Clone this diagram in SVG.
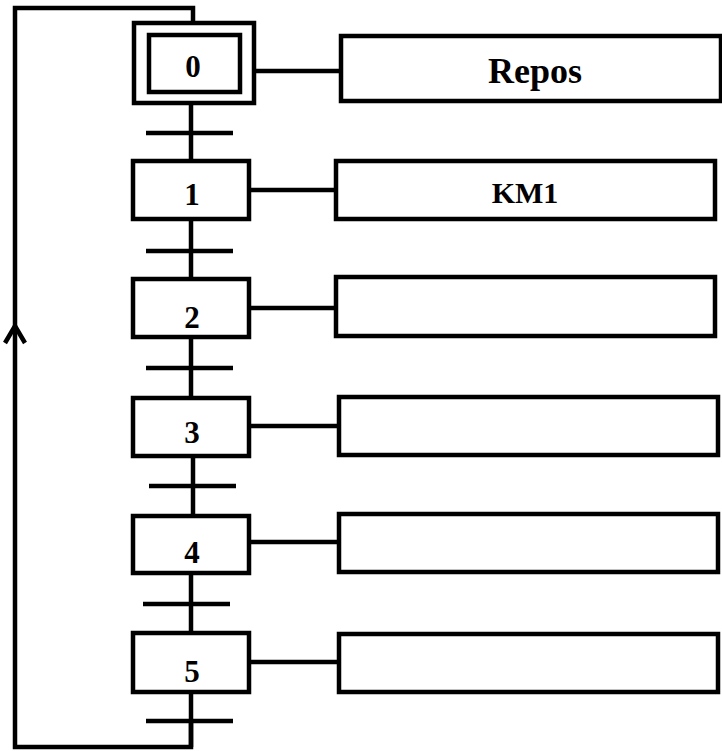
<svg xmlns="http://www.w3.org/2000/svg" width="722" height="751" viewBox="0 0 722 751">
<style>
.box{fill:#fff;stroke:#000;stroke-width:4.5}
.ln{fill:none;stroke:#000;stroke-width:4.5}
.num{font-family:"Liberation Serif","Times New Roman",serif;font-weight:bold;font-size:31px;text-anchor:middle;fill:#000}
.act{font-family:"Liberation Serif","Times New Roman",serif;font-weight:bold;text-anchor:middle;fill:#000}
</style>
<rect width="722" height="751" fill="#fff"/>
<g id="connectors">
  <!-- return loop -->
  <polyline class="ln" points="191,721 191,747 15,747 15,8 193,8 193,23"/>
  <polyline class="ln" points="5,343 15,326 25,343" stroke-linejoin="miter"/>
  <!-- vertical links -->
  <line class="ln" x1="191" y1="103" x2="191" y2="161"/>
  <line class="ln" x1="191" y1="219" x2="191" y2="279"/>
  <line class="ln" x1="191" y1="337" x2="191" y2="398"/>
  <line class="ln" x1="193" y1="456" x2="193" y2="516"/>
  <line class="ln" x1="191" y1="573" x2="191" y2="633"/>
  <line class="ln" x1="191" y1="692" x2="191" y2="747"/>
  <!-- transitions -->
  <line class="ln" x1="146" y1="133" x2="233" y2="133"/>
  <line class="ln" x1="146" y1="251" x2="233" y2="251"/>
  <line class="ln" x1="146" y1="368" x2="233" y2="368"/>
  <line class="ln" x1="149" y1="486" x2="236" y2="486"/>
  <line class="ln" x1="143" y1="604" x2="230" y2="604"/>
  <line class="ln" x1="146" y1="721" x2="233" y2="721"/>
  <!-- action links -->
  <line class="ln" x1="254" y1="71" x2="341" y2="71"/>
  <line class="ln" x1="249" y1="190" x2="336" y2="190"/>
  <line class="ln" x1="249" y1="308" x2="336" y2="308"/>
  <line class="ln" x1="249" y1="426" x2="339" y2="426"/>
  <line class="ln" x1="249" y1="542" x2="339" y2="542"/>
  <line class="ln" x1="249" y1="662" x2="339" y2="662"/>
</g>
<g id="step0">
  <rect class="box" x="134" y="23" width="120" height="80"/>
  <rect class="box" x="149" y="35" width="91" height="57" stroke-width="5"/>
  <text class="num" x="193" y="77">0</text>
</g>
<g id="step1">
  <rect class="box" x="133" y="161" width="116" height="58"/>
  <text class="num" x="192" y="205">1</text>
</g>
<g id="step2">
  <rect class="box" x="133" y="279" width="116" height="58"/>
  <text class="num" x="192" y="328">2</text>
</g>
<g id="step3">
  <rect class="box" x="133" y="398" width="116" height="58"/>
  <text class="num" x="192" y="443">3</text>
</g>
<g id="step4">
  <rect class="box" x="133" y="516" width="116" height="57"/>
  <text class="num" x="192" y="563">4</text>
</g>
<g id="step5">
  <rect class="box" x="133" y="633" width="116" height="59"/>
  <text class="num" x="192" y="682">5</text>
</g>
<g id="action0">
  <rect class="box" x="341" y="36" width="380" height="65"/>
  <text class="act" x="535" y="83" font-size="36">Repos</text>
</g>
<g id="action1">
  <rect class="box" x="336" y="161" width="379" height="58"/>
  <text class="act" x="525" y="203" font-size="30">KM1</text>
</g>
<g id="action2">
  <rect class="box" x="336" y="277" width="379" height="59"/>
</g>
<g id="action3">
  <rect class="box" x="339" y="397" width="379" height="58"/>
</g>
<g id="action4">
  <rect class="box" x="339" y="514" width="379" height="58"/>
</g>
<g id="action5">
  <rect class="box" x="339" y="634" width="379" height="58"/>
</g>
</svg>
